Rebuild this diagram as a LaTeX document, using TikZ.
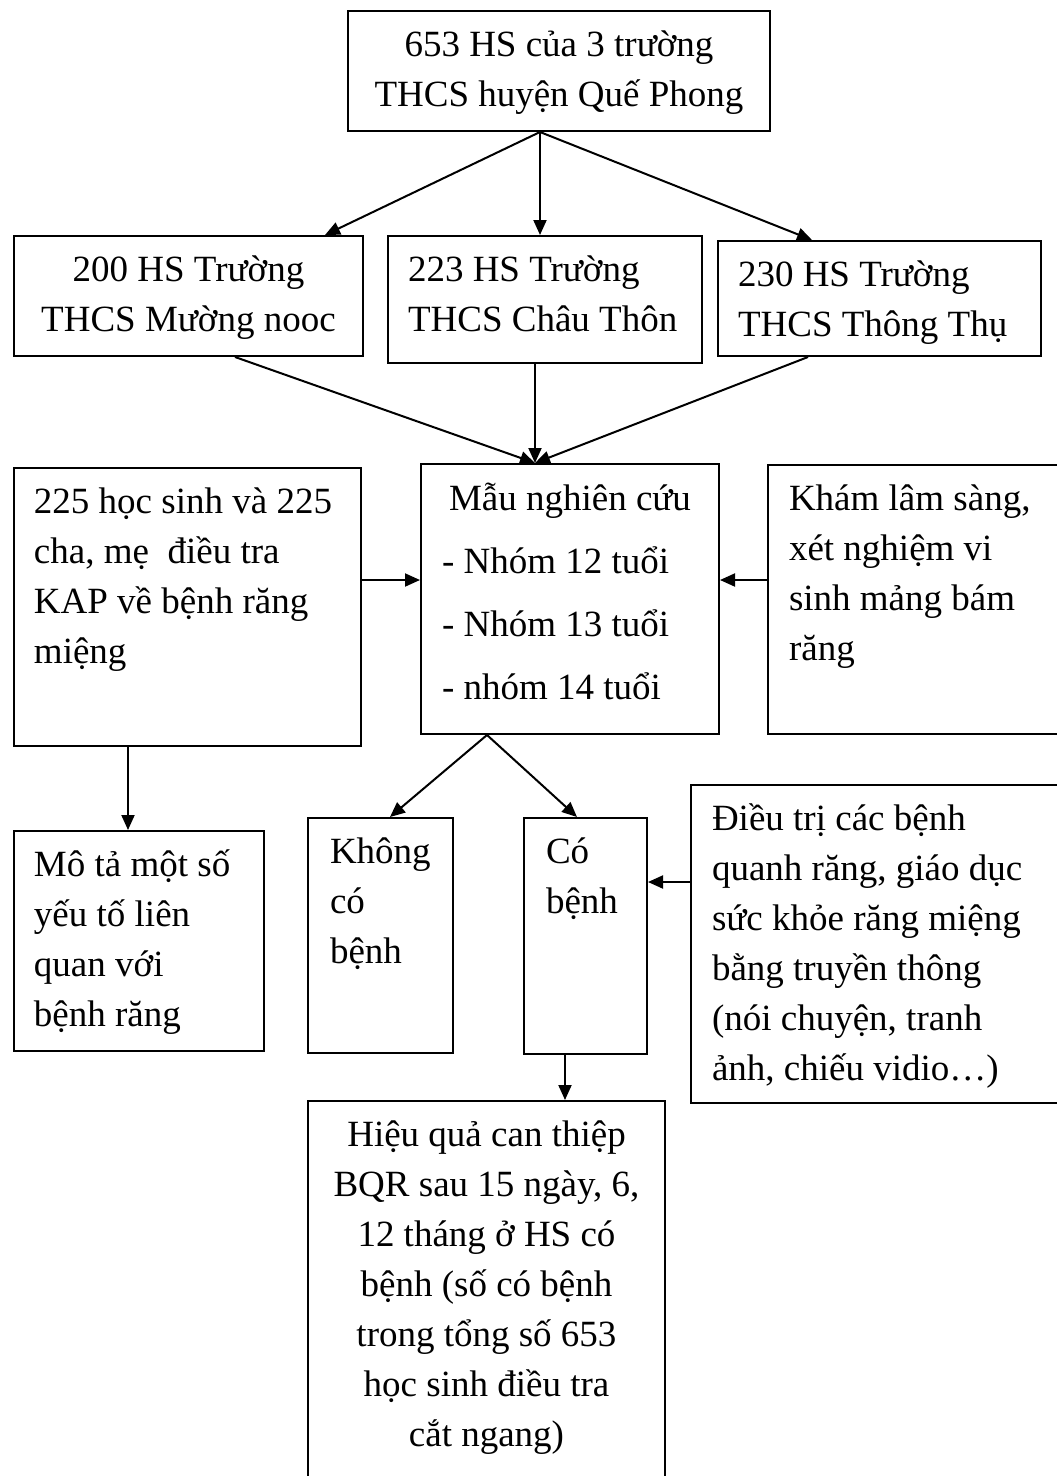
\documentclass[tikz,border=0pt]{standalone}
\usepackage{fontspec}
\setmainfont{Liberation Serif}
\usetikzlibrary{calc,arrows.meta}
\newcommand{\otrai}[3]{\parbox[t][#2][t]{#1}{\begin{tabular}[t]{@{}l@{}}#3\end{tabular}}}
\newcommand{\ogiua}[3]{\parbox[t][#2][t]{#1}{\centering\begin{tabular}[t]{@{}c@{}}#3\end{tabular}}}
\begin{document}
\begin{tikzpicture}[x=1pt,y=-1pt,>={Triangle[length=15pt,width=13pt]},
    khung/.style={draw,line width=2pt,anchor=north west,inner xsep=20pt,inner ysep=10pt,font=\fontsize{37}{50}\selectfont},
    noi/.style={->,line width=2pt}]
\useasboundingbox (0,0) rectangle (1057,1476);

\node[khung] (goc) at (347,10) {\ogiua{382pt}{100pt}{653 HS của 3 trường\\THCS huyện Quế Phong}};
\node[khung] (mn) at (13,235) {\ogiua{309pt}{100pt}{200 HS Trường\\THCS Mường nooc}};
\node[khung] (ct) at (387,235) {\otrai{274pt}{107pt}{223 HS Trường\\THCS Châu Thôn}};
\node[khung] (tt) at (717,240) {\otrai{283pt}{95pt}{230 HS Trường\\THCS Thông Thụ}};

\node[khung] (kap) at (13,467) {\otrai{307pt}{258pt}{225 học sinh và 225\\cha, mẹ~ điều tra\\KAP về bệnh răng\\miệng}};
\node[khung,inner xsep=21pt,inner ysep=2pt] (mau) at (420,463) {\def\arraystretch{1.26}\otrai{256pt}{266pt}{\hspace*{7pt}Mẫu nghiên cứu\\- Nhóm 12 tuổi\\- Nhóm 13 tuổi\\- nhóm 14 tuổi}};
\node[khung,inner xsep=21pt] (kham) at (767,464) {\otrai{258pt}{249pt}{Khám lâm sàng,\\xét nghiệm vi\\sinh mảng bám\\răng}};

\node[khung] (mota) at (13,830) {\otrai{210pt}{200pt}{Mô tả một số\\yếu tố liên\\quan với\\bệnh răng}};
\node[khung,inner xsep=22pt] (khong) at (307,817) {\otrai{101pt}{215pt}{Không\\có\\bệnh}};
\node[khung,inner xsep=22pt] (co) at (523,817) {\otrai{79pt}{216pt}{Có\\bệnh}};
\node[khung,inner xsep=21pt] (dieutri) at (690,784) {\otrai{338pt}{298pt}{Điều trị các bệnh\\quanh răng, giáo dục\\sức khỏe răng miệng\\bằng truyền thông\\(nói chuyện, tranh\\ảnh, chiếu vidio…)}};
\node[khung] (hieuqua) at (307,1100) {\ogiua{317pt}{380pt}{Hiệu quả can thiệp\\BQR sau 15 ngày, 6,\\12 tháng ở HS có\\bệnh (số có bệnh\\trong tổng số 653\\học sinh điều tra\\cắt ngang)}};

\foreach \ten/\dx in {mn/312,ct/153,tt/95}
{
    \draw[noi] ($(goc.south west)+(193,0)$)--($(\ten.north west)+(\dx,0)$);
}
\foreach \ten/\dx in {mn/222,ct/148,tt/91}
{
    \draw[noi] ($(\ten.south west)+(\dx,0)$)--($(mau.north west)+(115,0)$);
}
\draw[noi] ($(kap.north east)+(0,113)$)--($(mau.north west)+(0,117)$);
\draw[noi] ($(kham.north west)+(0,116)$)--($(mau.north east)+(0,117)$);
\draw[noi] ($(kap.south west)+(115,0)$)--($(mota.north west)+(115,0)$);
\draw[noi] ($(mau.south west)+(67,0)$)--($(khong.north west)+(83,0)$);
\draw[noi] ($(mau.south west)+(67,0)$)--($(co.north west)+(54,0)$);
\draw[noi] ($(dieutri.north west)+(0,98)$)--($(co.north east)+(0,65)$);
\draw[noi] ($(co.south west)+(42,0)$)--($(hieuqua.north west)+(258,0)$);
\end{tikzpicture}
\end{document}
